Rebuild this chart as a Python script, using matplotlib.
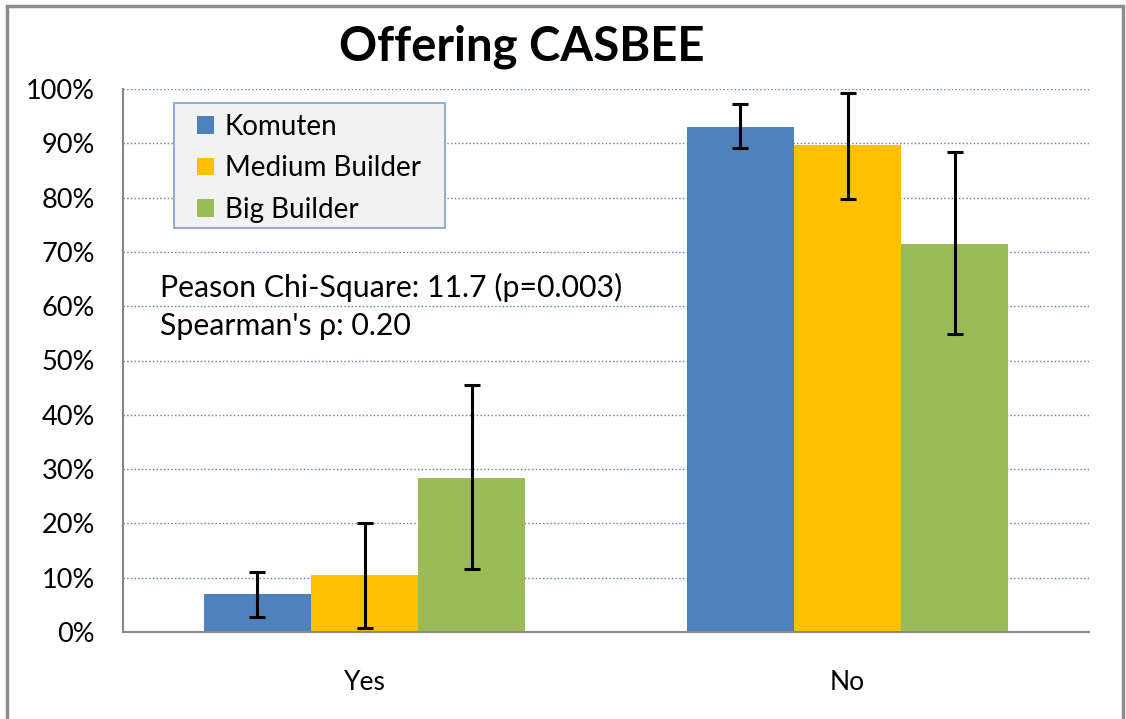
import numpy as np
import matplotlib.pyplot as plt
from matplotlib.patches import Rectangle

plt.rcParams['font.family'] = ['Lato', 'DejaVu Sans']

categories = ['Yes', 'No']
series = ['Komuten', 'Medium Builder', 'Big Builder']
values = {
    'Komuten': [7.0, 93.0],
    'Medium Builder': [10.5, 89.6],
    'Big Builder': [28.4, 71.5],
}
err_low = {
    'Komuten': [2.8, 89.1],
    'Medium Builder': [0.7, 79.7],
    'Big Builder': [11.6, 54.9],
}
err_high = {
    'Komuten': [11.0, 97.2],
    'Medium Builder': [20.1, 99.3],
    'Big Builder': [45.5, 88.4],
}
colors = ['#4f81bd', '#ffc000', '#9bbb59']
stats_lines = ["Peason Chi-Square: 11.7 (p=0.003)", "Spearman's \u03c1: 0.20"]

fig = plt.figure(figsize=(11.26, 7.19), dpi=100)
ax = fig.add_axes([123/1126, 87/719, 966/1126, 543/719])

x = np.arange(len(categories))
w = 0.222
for i, s in enumerate(series):
    pos = x + (i - 1) * w
    v = np.array(values[s])
    lo = v - np.array(err_low[s])
    hi = np.array(err_high[s]) - v
    ax.bar(pos, v, width=w, color=colors[i], label=s, zorder=2)
    ax.errorbar(pos, v, yerr=[lo, hi], fmt='none', ecolor='black',
                elinewidth=2.2, capsize=5.5, capthick=2.2, zorder=3)

ax.set_xlim(-0.5, 1.5)
ax.set_ylim(0, 100)
ax.set_yticks(np.arange(0, 101, 10))
ax.set_yticklabels([f'{t}%' for t in range(0, 101, 10)], fontsize=19.5)
ax.set_xticks(x)
ax.set_xticklabels(categories, fontsize=19)
ax.tick_params(axis='y', length=0, pad=20)
ax.tick_params(axis='x', length=0, pad=27)
ax.grid(axis='y', color='#4f81bd', linestyle=':', linewidth=1.0, zorder=0)
ax.set_axisbelow(True)
for sp in ['top', 'right']:
    ax.spines[sp].set_visible(False)
for sp in ['left', 'bottom']:
    ax.spines[sp].set_color('#888888')
    ax.spines[sp].set_linewidth(1.5)

# legend box drawn separately so the padding matches
ax.add_patch(Rectangle(((174 - 123)/966, 1 - (228 - 89)/543),
                       (445 - 174)/966, (228 - 103)/543,
                       transform=ax.transAxes, facecolor='#f2f2f2',
                       edgecolor='#7f9fcf', linewidth=1.2, zorder=4))
leg = ax.legend(loc='upper left', bbox_to_anchor=((197 - 123)/966, 1 - (114 - 89)/543),
                borderaxespad=0, borderpad=0, fontsize=20, frameon=False,
                handlelength=0.6, handleheight=0.6, handletextpad=0.4,
                labelspacing=0.55)
leg.set_zorder(5)

for k, line in enumerate(stats_lines):
    ax.text(37/966, 1 - (198 + 39 * k)/543, line, transform=ax.transAxes,
            fontsize=21.8, va='center', ha='left')

fig.text(522/1126, 1 - 47/719, 'Offering CASBEE', fontsize=34,
         fontweight='bold', ha='center', va='center')

fig.patches.append(Rectangle((7/1126, -0.02), 1116/1126, 1 - 6/719 + 0.02,
                             transform=fig.transFigure, fill=False,
                             edgecolor='#8c8c8c', linewidth=2.5))

fig.savefig('out.png', dpi=100)
